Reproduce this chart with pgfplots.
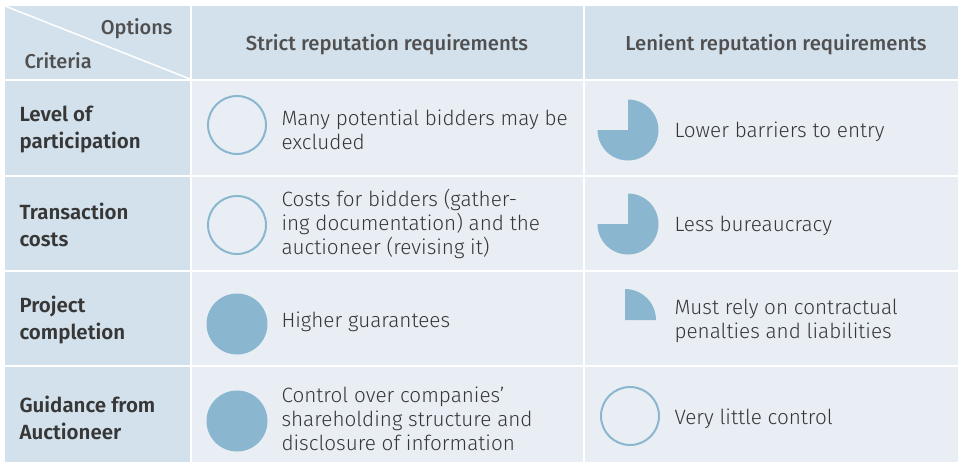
\documentclass[border=0pt]{standalone}
\usepackage{fontspec}
\setmainfont{Fira Sans Light}
\newfontfamily\medfont{Fira Sans Medium}
\newfontfamily\sbfont{Fira Sans SemiBold}
\usepackage{pgfplots}
\pgfplotsset{compat=1.18}
\definecolor{hdr}{RGB}{211,225,236}
\definecolor{body}{RGB}{233,238,245}
\definecolor{ball}{RGB}{138,183,207}
\definecolor{txt}{RGB}{55,55,55}
\definecolor{htxt}{RGB}{80,80,80}
\pgfdeclareplotmark{hbempty}{\pgfpathcircle{\pgfpointorigin}{\pgfplotmarksize}\pgfusepathqstroke}
\pgfdeclareplotmark{hbfull}{\pgfpathcircle{\pgfpointorigin}{\pgfplotmarksize}\pgfusepathqfill}
\pgfdeclareplotmark{hbquarter}{\pgfpathmoveto{\pgfpointorigin}\pgfpathlineto{\pgfqpoint{0pt}{\pgfplotmarksize}}\pgfpatharc{90}{0}{\pgfplotmarksize}\pgfpathclose\pgfusepathqfill}
\pgfdeclareplotmark{hbthree}{\pgfpathmoveto{\pgfpointorigin}\pgfpathlineto{\pgfqpoint{0pt}{\pgfplotmarksize}}\pgfpatharc{90}{-180}{\pgfplotmarksize}\pgfpathclose\pgfusepathqfill}
\begin{document}
\begin{tikzpicture}
\begin{axis}[
  scale only axis, width=959pt, height=463pt,
  xmin=0, xmax=959, ymin=0, ymax=463, y dir=reverse,
  hide axis, clip=false,
]
% background
\addplot[fill=white, draw=none] coordinates {(0,0) (959,0) (959,463) (0,463)} -- cycle;
% header row
\addplot[fill=hdr, draw=none] coordinates {(5,6) (190,6) (190,79) (5,79)} -- cycle;
\addplot[fill=hdr, draw=none] coordinates {(192,6) (583,6) (583,79) (192,79)} -- cycle;
\addplot[fill=hdr, draw=none] coordinates {(585,6) (958,6) (958,79) (585,79)} -- cycle;
% criteria column
\addplot[fill=hdr, draw=none] coordinates {(5,81) (190,81) (190,175) (5,175)} -- cycle;
\addplot[fill=hdr, draw=none] coordinates {(5,177) (190,177) (190,270) (5,270)} -- cycle;
\addplot[fill=hdr, draw=none] coordinates {(5,272) (190,272) (190,365) (5,365)} -- cycle;
\addplot[fill=hdr, draw=none] coordinates {(5,367) (190,367) (190,462) (5,462)} -- cycle;
% body cells
\addplot[fill=body, draw=none] coordinates {(192,81) (583,81) (583,175) (192,175)} -- cycle;
\addplot[fill=body, draw=none] coordinates {(192,177) (583,177) (583,270) (192,270)} -- cycle;
\addplot[fill=body, draw=none] coordinates {(192,272) (583,272) (583,365) (192,365)} -- cycle;
\addplot[fill=body, draw=none] coordinates {(192,367) (583,367) (583,462) (192,462)} -- cycle;
\addplot[fill=body, draw=none] coordinates {(585,81) (958,81) (958,175) (585,175)} -- cycle;
\addplot[fill=body, draw=none] coordinates {(585,177) (958,177) (958,270) (585,270)} -- cycle;
\addplot[fill=body, draw=none] coordinates {(585,272) (958,272) (958,365) (585,365)} -- cycle;
\addplot[fill=body, draw=none] coordinates {(585,367) (958,367) (958,462) (585,462)} -- cycle;
% diagonal
\addplot[white, line width=1.5pt] coordinates {(5,6) (190,79)};
% Harvey balls
\addplot[only marks, mark=hbempty, mark size=29pt, mark options={draw=ball, line width=2pt}] coordinates {(237,125) (237,225) (630,416)};
\addplot[only marks, mark=hbfull, mark size=30.5pt, mark options={fill=ball, draw=none}] coordinates {(237,324) (237,421)};
\addplot[only marks, mark=hbthree, mark size=30.5pt, mark options={fill=ball, draw=none}] coordinates {(628,130) (628,224)};
\addplot[only marks, mark=hbquarter, mark size=31pt, mark options={fill=ball, draw=none}] coordinates {(625,320)};
% header texts
\node[anchor=east, text=htxt, font=\medfont\fontsize{20}{22}\selectfont] at (axis cs:176,29) {Options};
\node[anchor=west, text=htxt, font=\medfont\fontsize{20}{22}\selectfont] at (axis cs:21,61) {Criteria};
\node[text=htxt, font=\medfont\fontsize{20.3}{22}\selectfont] at (axis cs:387,45) {Strict reputation requirements};
\node[text=htxt, font=\medfont\fontsize{20.3}{22}\selectfont] at (axis cs:776,45) {Lenient reputation requirements};
% row labels
\tikzset{rl/.style={anchor=west, align=left, text=txt, font=\sbfont\fontsize{20.5}{27}\selectfont}}
\node[rl] at (axis cs:16,129) {Level of\\participation};
\node[rl] at (axis cs:16,225) {Transaction\\costs};
\node[rl] at (axis cs:16,320) {Project\\completion};
\node[rl] at (axis cs:16,418) {Guidance from\\Auctioneer};
% body texts
\tikzset{bt/.style={anchor=west, align=left, text=txt, font=\fontsize{20.7}{24}\selectfont}}
\node[bt] at (axis cs:278,130) {Many potential bidders may be\\excluded};
\node[bt] at (axis cs:278,224) {Costs for bidders (gather-\\ing documentation) and the\\auctioneer (revising it)};
\node[bt] at (axis cs:278,322) {Higher guarantees};
\node[bt] at (axis cs:278,419) {Control over companies’\\shareholding structure and\\disclosure of information};
\node[bt] at (axis cs:671,132) {Lower barriers to entry};
\node[bt] at (axis cs:671,226) {Less bureaucracy};
\node[bt] at (axis cs:671,321) {Must rely on contractual\\penalties and liabilities};
\node[bt] at (axis cs:671,419) {Very little control};
\end{axis}
\end{tikzpicture}
\end{document}
